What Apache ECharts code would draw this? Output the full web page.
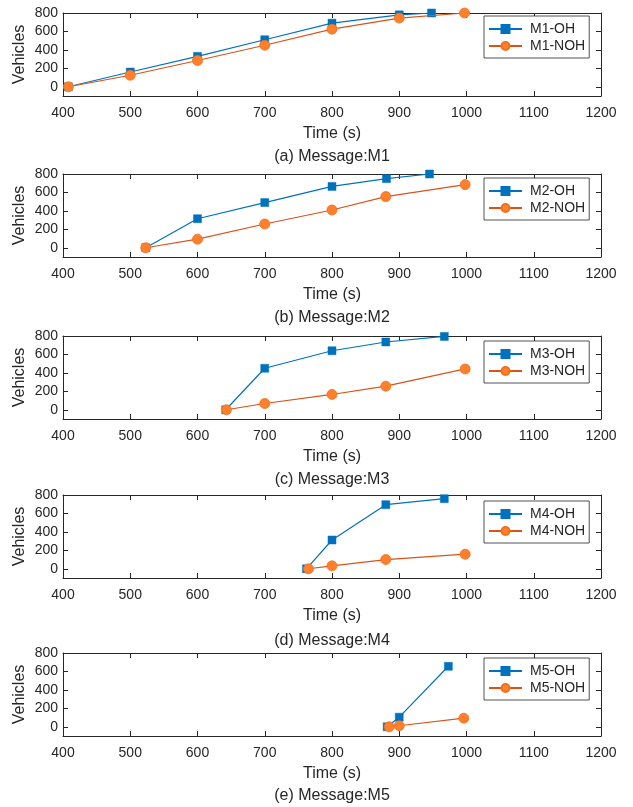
<!DOCTYPE html>
<html>
<head>
<meta charset="utf-8">
<style>
  html, body { margin: 0; padding: 0; background: #fff; }
  #chart { width: 633px; height: 807px; }
</style>
<script src="https://cdn.jsdelivr.net/npm/echarts@6/dist/echarts.min.js"></script>
</head>
<body>
<div id="chart"></div>
<script>
// Vehicles that have received each message over time, with (OH) and without (NOH) the scheme.
const m1OhTime = [408, 500, 600, 700, 800, 900, 948];
const m1OhVehicles = [0, 160, 330, 510, 690, 780, 800];
const m1NohTime = [408, 500, 600, 700, 800, 900, 997];
const m1NohVehicles = [0, 125, 285, 450, 625, 745, 800];

const m2OhTime = [523, 600, 700, 800, 881, 945];
const m2OhVehicles = [0, 315, 490, 665, 750, 800];
const m2NohTime = [523, 600, 700, 800, 880, 998];
const m2NohVehicles = [0, 93, 258, 410, 555, 685];

const m3OhTime = [642, 700, 800, 880, 967];
const m3OhVehicles = [0, 450, 640, 735, 795];
const m3NohTime = [643, 700, 800, 880, 998];
const m3NohVehicles = [0, 68, 166, 256, 443];

const m4OhTime = [762, 800, 880, 967];
const m4OhVehicles = [0, 312, 695, 760];
const m4NohTime = [765, 800, 880, 998];
const m4NohVehicles = [0, 32, 100, 158];

const m5OhTime = [882, 900, 973];
const m5OhVehicles = [0, 104, 656];
const m5NohTime = [885, 900, 996];
const m5NohVehicles = [0, 11, 93];

const messages = ['M1', 'M2', 'M3', 'M4', 'M5'];
const captions = ['(a) Message:M1', '(b) Message:M2', '(c) Message:M3', '(d) Message:M4', '(e) Message:M5'];
const yTicks = [0, 200, 400, 600, 800];
const xRange = [400, 1200];
const yRange = [-100, 800];

const panels = [
  [m1OhTime, m1OhVehicles, m1NohTime, m1NohVehicles],
  [m2OhTime, m2OhVehicles, m2NohTime, m2NohVehicles],
  [m3OhTime, m3OhVehicles, m3NohTime, m3NohVehicles],
  [m4OhTime, m4OhVehicles, m4NohTime, m4NohVehicles],
  [m5OhTime, m5OhVehicles, m5NohTime, m5NohVehicles]
];

const FONT = "'Liberation Sans', Arial, Helvetica, sans-serif";
const INK = '#262626';
const BLUE = '#0072BD';
const ORANGE = '#D95319';
const ORANGE_FILL = '#FF7F2A';

const gridTops = [13, 174, 336, 495, 653];
const gridHeight = 83;
const gridLeft = 63;
const gridWidth = 538;
const captionTops = [149, 310, 472, 633, 788];
const legendTops = [16, 178, 341, 501, 658];
const legendLeft = 484;

const zip = (xs, ys) => xs.map((x, i) => [x, ys[i]]);
const plain = v => String(v);

const option = {
  animation: false,
  backgroundColor: '#fff',
  textStyle: { fontFamily: FONT, color: INK },
  grid: [], xAxis: [], yAxis: [], series: [], legend: [], title: []
};

panels.forEach((p, i) => {
  option.grid.push({
    left: gridLeft, top: gridTops[i], width: gridWidth, height: gridHeight,
    outerBoundsMode: 'none', containLabel: false
  });

  const lineStyle = { color: INK, width: 1 };
  // Bottom axis with labels and the title, plus a bare top axis to close the box
  option.xAxis.push({
    type: 'value', gridIndex: i, min: xRange[0], max: xRange[1], interval: 100,
    position: 'bottom',
    name: 'Time (s)', nameLocation: 'middle', nameGap: 30, nameMoveOverlap: false,
    nameTextStyle: { fontSize: 16, color: INK, fontFamily: FONT },
    axisLine: { show: true, onZero: false, lineStyle },
    axisTick: { show: true, inside: true, length: 5, lineStyle },
    axisLabel: { fontSize: 14, color: INK, margin: 10, fontFamily: FONT, formatter: plain },
    splitLine: { show: false }
  });
  option.xAxis.push({
    type: 'value', gridIndex: i, min: xRange[0], max: xRange[1], interval: 100,
    position: 'top',
    axisLine: { show: true, onZero: false, lineStyle },
    axisTick: { show: true, inside: true, length: 5, lineStyle },
    axisLabel: { show: false },
    splitLine: { show: false }
  });
  option.yAxis.push({
    type: 'value', gridIndex: i, min: yRange[0], max: yRange[1],
    position: 'left',
    name: 'Vehicles', nameLocation: 'middle', nameGap: 35, nameRotate: 90, nameMoveOverlap: false,
    nameTextStyle: { fontSize: 16, color: INK, fontFamily: FONT },
    axisLine: { show: true, onZero: false, lineStyle },
    axisTick: { show: true, inside: true, length: 5, lineStyle, customValues: yTicks },
    axisLabel: { fontSize: 14, color: INK, margin: 5, fontFamily: FONT, customValues: yTicks, formatter: plain },
    splitLine: { show: false }
  });
  option.yAxis.push({
    type: 'value', gridIndex: i, min: yRange[0], max: yRange[1],
    position: 'right',
    axisLine: { show: true, onZero: false, lineStyle },
    axisTick: { show: true, inside: true, length: 5, lineStyle, customValues: yTicks },
    axisLabel: { show: false },
    splitLine: { show: false }
  });

  const ohName = messages[i] + '-OH';
  const nohName = messages[i] + '-NOH';
  option.series.push({
    name: ohName, type: 'line', xAxisIndex: 2 * i, yAxisIndex: 2 * i,
    data: zip(p[0], p[1]),
    symbol: 'rect', symbolSize: 8,
    lineStyle: { color: BLUE, width: 1.2 },
    itemStyle: { color: BLUE, borderColor: BLUE, borderWidth: 0.5 },
    z: 2
  });
  option.series.push({
    name: nohName, type: 'line', xAxisIndex: 2 * i, yAxisIndex: 2 * i,
    data: zip(p[2], p[3]),
    symbol: 'circle', symbolSize: 10,
    lineStyle: { color: ORANGE, width: 1.2 },
    itemStyle: { color: ORANGE_FILL, borderColor: '#F0701F', borderWidth: 0.8 },
    z: 3
  });

  option.legend.push({
    data: [ohName, nohName],
    orient: 'vertical',
    left: legendLeft, top: legendTops[i],
    padding: [6, 4, 5, 4],
    itemGap: 3,
    itemWidth: 33, itemHeight: 10,
    backgroundColor: '#fff',
    borderColor: INK, borderWidth: 0.8,
    textStyle: { fontSize: 14, color: INK, fontFamily: FONT, padding: [0, 0, 0, 3] }
  });

  option.title.push({
    text: captions[i],
    left: gridLeft + gridWidth / 2, top: captionTops[i], textAlign: 'center',
    textStyle: { fontSize: 16, fontWeight: 'normal', color: INK, fontFamily: FONT },
    padding: 0
  });
});

const chart = echarts.init(document.getElementById('chart'), null, { renderer: 'canvas' });
chart.setOption(option);
</script>
</body>
</html>
